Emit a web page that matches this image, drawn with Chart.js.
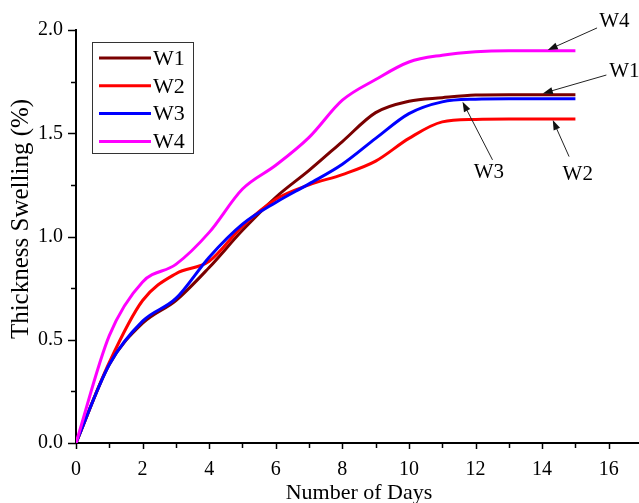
<!DOCTYPE html>
<html>
<head>
<meta charset="utf-8">
<script src="https://cdn.jsdelivr.net/npm/chart.js@4/dist/chart.umd.min.js"></script>
<style>
html,body{margin:0;padding:0;overflow:hidden;background:#fff;width:639px;height:503px}
canvas{display:block}
</style>
</head>
<body>
<canvas id="c" width="642" height="503"></canvas>
<script>
// ---- data ----
const days = [0, 1, 2, 3, 4, 5, 6, 7, 8, 9, 10, 11, 12, 13, 14, 15];
const w1 = [0, 0.38, 0.58, 0.69, 0.85, 1.03, 1.19, 1.32, 1.46, 1.60, 1.655, 1.672, 1.685, 1.687, 1.687, 1.687];
const w2 = [0, 0.39, 0.69, 0.82, 0.88, 1.05, 1.18, 1.25, 1.30, 1.365, 1.475, 1.555, 1.567, 1.569, 1.569, 1.569];
const w3 = [0, 0.38, 0.59, 0.70, 0.90, 1.06, 1.165, 1.255, 1.35, 1.475, 1.595, 1.652, 1.665, 1.667, 1.667, 1.667];
const w4 = [0, 0.52, 0.78, 0.865, 1.02, 1.23, 1.345, 1.48, 1.66, 1.76, 1.845, 1.878, 1.895, 1.90, 1.90, 1.90];
const seriesNames = ['W1', 'W2', 'W3', 'W4'];
const xMajorTicks = [0, 2, 4, 6, 8, 10, 12, 14, 16];
const xMinorTicks = [1, 3, 5, 7, 9, 11, 13, 15, 17];
const yMajorTicks = [0, 0.5, 1.0, 1.5, 2.0];
const yMinorTicks = [0.25, 0.75, 1.25, 1.75];
const xTitle = 'Number of Days';
const yTitle = 'Thickness Swelling (%)';

// ---- styles ----
const colors = ['#7a0000', '#ff0000', '#0000ff', '#ff00ff'];
const SERIF = '"Liberation Serif", "Times New Roman", serif';

// callout labels (positions in data units)
const callouts = [
  { label: 'W4', tip: [14.17, 1.903], tail: [15.65, 2.01], text: [16.17, 2.04] },
  { label: 'W1', tip: [14.02, 1.693], tail: [15.93, 1.782], text: [16.47, 1.80] },
  { label: 'W3', tip: [11.61, 1.653], tail: [12.51, 1.371], text: [12.4, 1.308] },
  { label: 'W2', tip: [14.32, 1.564], tail: [14.81, 1.387], text: [15.07, 1.298] }
];

const seriesData = [w1, w2, w3, w4];
const datasets = seriesData.map((arr, i) => ({
  label: seriesNames[i],
  data: days.map((d, j) => ({ x: d, y: arr[j] })),
  borderColor: colors[i],
  backgroundColor: colors[i],
  borderWidth: 3,
  pointRadius: 0,
  fill: false,
  cubicInterpolationMode: 'monotone',
  order: seriesNames.length - i
}));

const decor = {
  id: 'decor',
  afterDraw(chart) {
    const ctx = chart.ctx;
    const xs = chart.scales.x, ys = chart.scales.y;
    const area = chart.chartArea;
    ctx.save();
    ctx.strokeStyle = '#000';
    ctx.lineWidth = 1.5;
    // x ticks
    xMajorTicks.concat(xMinorTicks).forEach(v => {
      const px = Math.round(xs.getPixelForValue(v)) + 0.5;
      const len = xMajorTicks.includes(v) ? 6 : 5;
      ctx.beginPath();
      ctx.moveTo(px, area.bottom);
      ctx.lineTo(px, area.bottom + len);
      ctx.stroke();
    });
    // y ticks
    yMajorTicks.concat(yMinorTicks).forEach(v => {
      const py = Math.round(ys.getPixelForValue(v)) + 0.5;
      const len = yMajorTicks.includes(v) ? 8 : 5;
      ctx.beginPath();
      ctx.moveTo(area.left, py);
      ctx.lineTo(area.left - len, py);
      ctx.stroke();
    });

    // y axis title
    ctx.save();
    ctx.translate(21, 219);
    ctx.rotate(-Math.PI / 2);
    ctx.font = '25px ' + SERIF;
    ctx.fillStyle = '#000';
    ctx.textAlign = 'center';
    ctx.textBaseline = 'middle';
    ctx.fillText(yTitle, 0, 0);
    ctx.restore();

    // legend box
    const lx = area.left + 16, ly = area.top + 12;
    const lw = 101, lh = 111;
    ctx.lineWidth = 1;
    ctx.strokeStyle = '#333';
    ctx.strokeRect(lx + 0.5, ly + 0.5, lw, lh);
    ctx.font = '22px ' + SERIF;
    ctx.textBaseline = 'middle';
    ctx.textAlign = 'left';
    chart.data.datasets.forEach((ds, i) => {
      const ry = ly + 16 + i * 27.8;
      ctx.strokeStyle = ds.borderColor;
      ctx.lineWidth = 3;
      ctx.beginPath();
      ctx.moveTo(lx + 7, ry);
      ctx.lineTo(lx + 59, ry);
      ctx.stroke();
      ctx.fillStyle = '#000';
      ctx.fillText(ds.label, lx + 61, ry + 1);
    });

    // callouts
    ctx.font = '21px ' + SERIF;
    ctx.textAlign = 'center';
    ctx.textBaseline = 'middle';
    callouts.forEach(c => {
      const tx = xs.getPixelForValue(c.tip[0]), ty = ys.getPixelForValue(c.tip[1]);
      const sx = xs.getPixelForValue(c.tail[0]), sy = ys.getPixelForValue(c.tail[1]);
      const ang = Math.atan2(ty - sy, tx - sx);
      ctx.strokeStyle = '#222';
      ctx.fillStyle = '#111';
      ctx.lineWidth = 1;
      ctx.beginPath();
      ctx.moveTo(sx, sy);
      ctx.lineTo(tx - Math.cos(ang) * 6, ty - Math.sin(ang) * 6);
      ctx.stroke();
      const hl = 10, hw = 3.5;
      ctx.beginPath();
      ctx.moveTo(tx, ty);
      ctx.lineTo(tx - Math.cos(ang) * hl - Math.sin(ang) * hw, ty - Math.sin(ang) * hl + Math.cos(ang) * hw);
      ctx.lineTo(tx - Math.cos(ang) * hl + Math.sin(ang) * hw, ty - Math.sin(ang) * hl - Math.cos(ang) * hw);
      ctx.closePath();
      ctx.fill();
      ctx.fillStyle = '#000';
      ctx.fillText(c.label, xs.getPixelForValue(c.text[0]), ys.getPixelForValue(c.text[1]));
    });
    ctx.restore();
  }
};

new Chart(document.getElementById('c'), {
  type: 'line',
  data: { datasets },
  options: {
    responsive: false,
    animation: false,
    events: [],
    layout: { padding: { top: 30, right: 0, left: 0, bottom: 0 } },
    plugins: { legend: { display: false }, tooltip: { enabled: false } },
    scales: {
      x: {
        type: 'linear',
        min: 0,
        max: 17,
        afterFit: s => { s.height = 60; },
        afterBuildTicks: s => { s.ticks = xMajorTicks.map(v => ({ value: v })); },
        border: { display: true, color: '#000', width: 2 },
        grid: { display: false, drawTicks: false },
        ticks: {
          color: '#000',
          padding: 15,
          maxRotation: 0,
          autoSkip: false,
          font: { family: SERIF, size: 20 },
          callback: v => String(v)
        },
        title: {
          display: true,
          text: xTitle,
          color: '#000',
          padding: { top: 0, bottom: -3 },
          font: { family: SERIF, size: 22 }
        }
      },
      y: {
        type: 'linear',
        min: 0,
        max: 2,
        afterFit: s => { s.width = 76; },
        afterBuildTicks: s => { s.ticks = yMajorTicks.map(v => ({ value: v })); },
        border: { display: true, color: '#000', width: 2 },
        grid: { display: false, drawTicks: false },
        ticks: {
          color: '#000',
          padding: 13,
          autoSkip: false,
          font: { family: SERIF, size: 20 },
          callback: v => Number(v).toFixed(1)
        },
        title: { display: false }
      }
    }
  },
  plugins: [decor]
});
</script>
</body>
</html>
